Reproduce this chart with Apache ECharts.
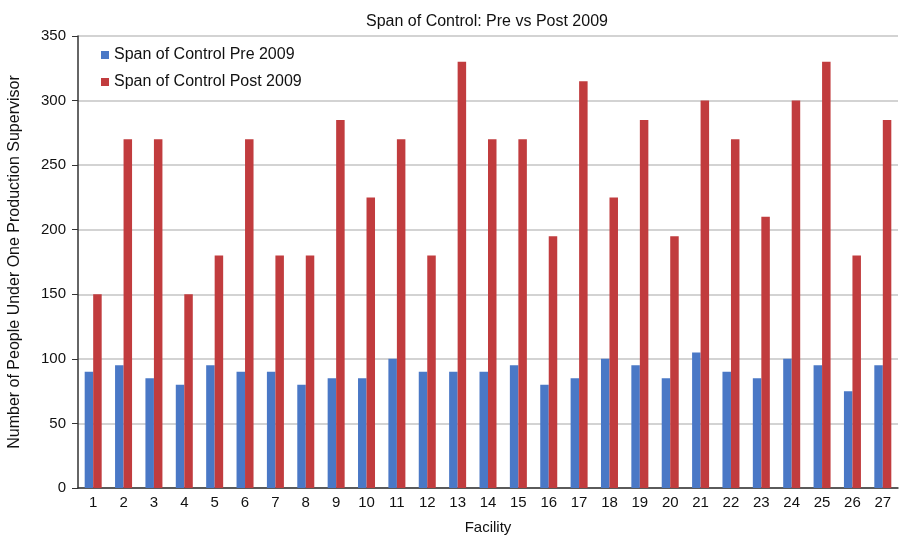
<!DOCTYPE html>
<html>
<head>
<meta charset="utf-8">
<style>
  html, body { margin: 0; padding: 0; background: #fff; }
  #chart { width: 899px; height: 535px; }
</style>
<script src="https://cdn.jsdelivr.net/npm/echarts@6/dist/echarts.min.js"></script>
</head>
<body>
<div id="chart"></div>
<script>
// Facilities 1..27
const facilities = ['1','2','3','4','5','6','7','8','9','10','11','12','13','14','15','16','17','18','19','20','21','22','23','24','25','26','27'];
// People under one production supervisor, before 2009
const prePost2009 = [90, 95, 85, 80, 95, 90, 90, 80, 85, 85, 100, 90, 90, 90, 95, 80, 85, 100, 95, 85, 105, 90, 85, 100, 95, 75, 95];
// People under one production supervisor, after 2009
const post2009 = [150, 270, 270, 150, 180, 270, 180, 180, 285, 225, 270, 180, 330, 270, 270, 195, 315, 225, 285, 195, 300, 270, 210, 300, 330, 180, 285];
// Value axis ticks
const yTicks = [0, 50, 100, 150, 200, 250, 300, 350];

const FONT = '"Liberation Sans", Arial, Helvetica, sans-serif';

const chart = echarts.init(document.getElementById('chart'));
chart.setOption({
  animation: false,
  textStyle: { fontFamily: FONT },
  title: {
    text: 'Span of Control: Pre vs Post 2009',
    left: 482, textAlign: 'center', top: 9,
    textStyle: { fontSize: 16, fontWeight: 'normal', color: '#111', fontFamily: FONT }
  },
  legend: {
    orient: 'vertical',
    left: 96, top: 42,
    itemWidth: 8, itemHeight: 8, itemGap: 11,
    icon: 'rect',
    textStyle: { fontSize: 16, color: '#111', fontFamily: FONT },
    data: ['Span of Control Pre 2009', 'Span of Control Post 2009']
  },
  grid: { left: 78, right: 1, top: 36, bottom: 47, containLabel: false, outerBoundsMode: 'none' },
  xAxis: {
    type: 'category',
    data: facilities,
    name: 'Facility',
    nameLocation: 'middle',
    nameGap: 32,
    nameTextStyle: { fontSize: 15, color: '#111', fontFamily: FONT },
    axisLine: { lineStyle: { color: '#333', width: 1.5 } },
    axisTick: { show: false },
    axisLabel: { fontSize: 15, color: '#111', margin: 7, fontFamily: FONT }
  },
  yAxis: {
    type: 'value',
    min: yTicks[0], max: yTicks[yTicks.length - 1], interval: 50,
    name: 'Number of People Under One Production Supervisor',
    nameLocation: 'middle',
    nameGap: 55,
    nameTextStyle: { fontSize: 16, color: '#111', fontFamily: FONT },
    axisLine: { show: true, lineStyle: { color: '#333', width: 1.5 } },
    axisTick: { show: true, length: 6, lineStyle: { color: '#333' } },
    axisLabel: { fontSize: 15, color: '#111', margin: 12, fontFamily: FONT },
    splitLine: { lineStyle: { color: '#c4c4c4', width: 1.5 } }
  },
  series: [
    {
      name: 'Span of Control Pre 2009',
      type: 'bar',
      data: prePost2009,
      barWidth: 8.5,
      barGap: '0%',
      itemStyle: { color: '#4a78c6' }
    },
    {
      name: 'Span of Control Post 2009',
      type: 'bar',
      data: post2009,
      barWidth: 8.5,
      barGap: '0%',
      itemStyle: { color: '#c13c3e' }
    }
  ]
});
</script>
</body>
</html>
